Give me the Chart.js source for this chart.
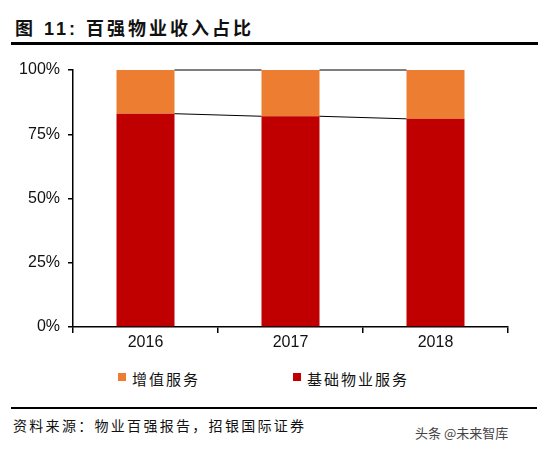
<!DOCTYPE html>
<html>
<head>
<meta charset="utf-8">
<script src="https://cdn.jsdelivr.net/npm/chart.js@4.4.0/dist/chart.umd.min.js"></script>
<style>
  body { margin: 0; width: 546px; height: 451px; background: #fff; position: relative; overflow: hidden;
         font-family: "Liberation Sans", "Noto Sans CJK SC", sans-serif; color: #111; }
  #title { position: absolute; left: 15px; top: 14px; font-size: 18px; font-weight: bold; letter-spacing: 3px;
           font-family: "Liberation Sans", "Noto Sans CJK SC", sans-serif; white-space: nowrap; }
  #topline { position: absolute; left: 11px; top: 42px; width: 527px; height: 3px; background: #000; }
  #box { position: absolute; left: 0; top: 50px; width: 546px; height: 310px; }
  .leg { position: absolute; top: 368px; font-size: 15px; letter-spacing: 2px; white-space: nowrap;
         font-family: "Noto Sans CJK SC", sans-serif; }
  .sw { position: absolute; width: 8px; height: 8px; top: 373px; }
  #botline { position: absolute; left: 11px; top: 407px; width: 526px; height: 2px; background: #000; }
  #src { position: absolute; left: 13px; top: 415px; font-size: 14px; letter-spacing: 2.3px; white-space: nowrap;
         font-family: "Noto Sans CJK SC", sans-serif; }
  #wm { position: absolute; left: 415px; top: 423px; font-size: 13px; color: #444; white-space: nowrap;
        font-family: "Noto Sans CJK SC", sans-serif; }
</style>
</head>
<body>
<div id="title">图 11: 百强物业收入占比</div>
<div id="topline"></div>
<div id="box"><canvas id="chart1"></canvas></div>
<div class="sw" style="left:118px;background:#ED7D31"></div>
<div class="leg" style="left:132px">增值服务</div>
<div class="sw" style="left:293px;background:#C00000"></div>
<div class="leg" style="left:307px">基础物业服务</div>
<div id="botline"></div>
<div id="src">资料来源：物业百强报告，招银国际证券</div>
<div id="wm">头条 @未来智库</div>
<script>
var years = ['2016', '2017', '2018'];
var basic = [83, 82, 81];       // 基础物业服务 %
var valueAdded = [17, 18, 19];  // 增值服务 %
var yTicks = [0, 25, 50, 75, 100];

// thin connector lines between stacked bars
var connectors = {
  id: 'connectors',
  afterDatasetsDraw: function (chart) {
    var ctx = chart.ctx;
    ctx.save();
    ctx.strokeStyle = '#000';
    ctx.lineWidth = 1;
    chart.data.datasets.forEach(function (ds, d) {
      var meta = chart.getDatasetMeta(d);
      for (var i = 0; i < meta.data.length - 1; i++) {
        var a = meta.data[i], b = meta.data[i + 1];
        ctx.beginPath();
        ctx.moveTo(a.x + a.width / 2, a.y);
        ctx.lineTo(b.x - b.width / 2, b.y);
        ctx.stroke();
      }
    });
    ctx.restore();
  }
};

new Chart(document.getElementById('chart1'), {
  type: 'bar',
  data: {
    labels: years,
    datasets: [
      { label: '基础物业服务', data: basic, backgroundColor: '#C00000', categoryPercentage: 1, barPercentage: 0.4 },
      { label: '增值服务', data: valueAdded, backgroundColor: '#ED7D31', categoryPercentage: 1, barPercentage: 0.4 }
    ]
  },
  options: {
    responsive: true,
    maintainAspectRatio: false,
    animation: false,
    layout: { padding: { top: 20, right: 38, left: 0, bottom: 0 } },
    plugins: { legend: { display: false }, tooltip: { enabled: false } },
    scales: {
      x: {
        stacked: true,
        grid: { display: true, offset: true, drawOnChartArea: false, tickLength: 6, color: '#000', lineWidth: 1.5 },
        border: { color: '#000', width: 1.5 },
        ticks: { color: '#111', font: { family: 'Liberation Sans', size: 16 }, padding: 0 },
        afterFit: function (s) { s.height = 33; }
      },
      y: {
        stacked: true,
        min: 0, max: 100,
        afterBuildTicks: function (s) { s.ticks = yTicks.map(function (v) { return { value: v }; }); },
        grid: { display: true, drawOnChartArea: false, tickLength: 5, color: '#000', lineWidth: 1.5 },
        border: { color: '#000', width: 1.5 },
        ticks: { color: '#111', font: { family: 'Liberation Sans', size: 16 }, padding: 8,
                 callback: function (v) { return v + '%'; } },
        afterFit: function (s) { s.width = 73; }
      }
    }
  },
  plugins: [connectors]
});
</script>
</body>
</html>
